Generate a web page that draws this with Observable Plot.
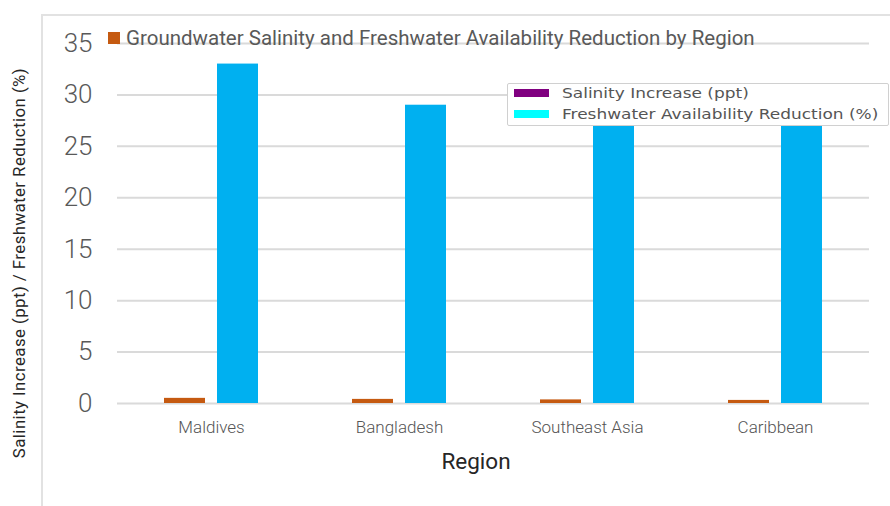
<!DOCTYPE html>
<html><head><meta charset="utf-8">
<script src="https://cdn.jsdelivr.net/npm/d3@7"></script>
<script src="https://cdn.jsdelivr.net/npm/@observablehq/plot@0.6"></script>
<style>
body{margin:0;background:#fff;}
#wrap{position:relative;width:890px;height:506px;overflow:hidden;font-family:Roboto,sans-serif;background:#fff;}
#wrap svg{position:absolute;left:0;top:0;}
.frame-top{position:absolute;left:42px;top:14px;width:848px;height:0;border-top:2px solid #e2e2e2;}
.frame-left{position:absolute;left:41px;top:14px;width:0;height:492px;border-left:2px solid #e2e2e2;}
.title{position:absolute;left:108px;top:26px;font-size:20.5px;color:#595959;white-space:nowrap;line-height:24px;display:flex;align-items:center;}
.title .sq{display:inline-block;width:12px;height:12px;background:#c55a11;margin-right:6px;}
.xlabel{position:absolute;left:476px;top:448px;transform:translateX(-50%);font-size:22.5px;color:#262626;white-space:nowrap;}
.ylabel{position:absolute;left:19px;top:263px;transform:translate(-50%,-50%) rotate(-90deg);font-size:16.8px;letter-spacing:0.45px;color:#262626;white-space:nowrap;}
.legend{position:absolute;left:507px;top:83px;width:380px;height:41px;border:1px solid #d0d0d0;border-radius:2px;background:#fff;font-family:"DejaVu Sans",sans-serif;font-size:14.5px;color:#555;}
.legend .row{position:absolute;left:6px;display:flex;align-items:center;white-space:nowrap;}
.legend .sw{display:inline-block;width:35px;height:8px;margin-right:13px;}
.legend .tx{display:inline-block;transform:scaleX(1.17);transform-origin:left center;}
</style>
</head><body>
<div id="wrap">
  <div class="frame-top"></div>
  <div class="frame-left"></div>
</div>
<script>
const regions = ["Maldives", "Bangladesh", "Southeast Asia", "Caribbean"];
const salinityIncrease = [0.5, 0.4, 0.35, 0.3];
const freshwaterReduction = [33, 29, 27, 27];
const seriesNames = ["Salinity Increase (ppt)", "Freshwater Availability Reduction (%)"];
const seriesColors = ["#c55a11", "#00b0f0"];
const legendColors = ["#800080", "#00ffff"];
const yTicks = [0, 5, 10, 15, 20, 25, 30, 35];
const titleText = "Groundwater Salinity and Freshwater Availability Reduction by Region";
const xLabel = "Region";
const yLabel = "Salinity Increase (ppt) / Freshwater Reduction (%)";

const data = regions.flatMap((r, i) => [
  {region: r, series: seriesNames[0], value: salinityIncrease[i]},
  {region: r, series: seriesNames[1], value: freshwaterReduction[i]}
]);

const chart = Plot.plot({
  width: 890,
  height: 506,
  marginLeft: 115,
  marginRight: 20,
  marginTop: 43,
  marginBottom: 103,
  style: {fontFamily: "Roboto, sans-serif", background: "transparent", overflow: "visible"},
  fx: {domain: regions, padding: 0, label: null, axis: null},
  x: {domain: seriesNames, paddingInner: 0.222, paddingOuter: 0.854, axis: null},
  y: {domain: [0, 35], label: null},
  color: {domain: seriesNames, range: seriesColors},
  marks: [
    Plot.ruleY(yTicks, {stroke: "#dadada", strokeWidth: 2}),
    Plot.barY(data, {fx: "region", x: "series", y: "value", fill: "series"}),
    Plot.axisY({ticks: yTicks, tickSize: 0, tickPadding: 25, fontSize: 26, fontWeight: 300, fill: "#595959", label: null}),
    Plot.axisFx({anchor: "bottom", tickSize: 0, tickPadding: 17, fontSize: 17, fontWeight: 300, fill: "#555", label: null})
  ]
});
const wrap = document.getElementById("wrap");
wrap.appendChild(chart);

const t = document.createElement("div");
t.className = "title";
t.innerHTML = '<span class="sq"></span>';
t.appendChild(document.createTextNode(titleText));
wrap.appendChild(t);

const xl = document.createElement("div");
xl.className = "xlabel"; xl.textContent = xLabel; wrap.appendChild(xl);
const yl = document.createElement("div");
yl.className = "ylabel"; yl.textContent = yLabel; wrap.appendChild(yl);

const lg = document.createElement("div");
lg.className = "legend";
seriesNames.forEach((s, i) => {
  const row = document.createElement("div");
  row.className = "row";
  row.style.top = (i === 0 ? 1 : 22) + "px";
  const sw = document.createElement("span");
  sw.className = "sw"; sw.style.background = legendColors[i];
  row.appendChild(sw);
  const tx = document.createElement("span");
  tx.className = "tx"; tx.textContent = s;
  row.appendChild(tx);
  lg.appendChild(row);
});
wrap.appendChild(lg);
</script>
</body></html>
